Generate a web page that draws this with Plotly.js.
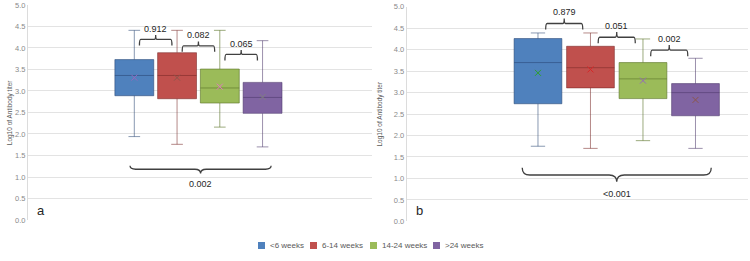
<!DOCTYPE html>
<html>
<head>
<meta charset="utf-8">
<script src="https://cdn.plot.ly/plotly-3.0.1.min.js"></script>
<style>html,body{margin:0;padding:0;background:#fff}#chart{width:750px;height:261px}</style>
</head>
<body>
<div id="chart"></div>
<script>
// ---- data ----
const groups = ['<6 weeks', '6-14 weeks', '14-24 weeks', '>24 weeks'];
const colors = ['#4F81BD', '#C0504D', '#9BBB59', '#8064A2'];
const lineColors = ['rgba(40,70,115,0.55)', 'rgba(120,40,38,0.55)', 'rgba(90,115,40,0.6)', 'rgba(75,55,105,0.55)'];
const meanColors = ['rgba(40,60,100,0.6)', 'rgba(100,35,35,0.6)', 'rgba(75,95,35,0.6)', 'rgba(60,45,90,0.6)'];

// panel a
const aLower  = [1.94, 1.76, 2.16, 1.70];
const aQ1     = [2.89, 2.82, 2.72, 2.48];
const aMedian = [3.36, 3.36, 3.07, 2.85];
const aQ3     = [3.73, 3.89, 3.51, 3.20];
const aUpper  = [4.41, 4.41, 4.41, 4.17];
const aMean   = [3.31, 3.31, 3.10, 2.86];
// panel b
const bLower  = [1.75, 1.70, 1.88, 1.70];
const bQ1     = [2.74, 3.11, 2.86, 2.46];
const bMedian = [3.70, 3.58, 3.32, 3.00];
const bQ3     = [4.26, 4.08, 3.70, 3.21];
const bUpper  = [4.39, 4.39, 4.25, 3.80];
const bMean   = [3.46, 3.54, 3.28, 2.83];

// p-value brackets
const aPairs = [[0, 1], [1, 2], [2, 3]];
const aPvals = ['0.912', '0.082', '0.065'];
const aBracketY = [4.20, 4.05, 3.85];
const aOverallP = '0.002';
const aOverallY = 1.18;
const bPairs = [[0, 1], [1, 2], [2, 3]];
const bPvals = ['0.879', '0.051', '0.002'];
const bBracketY = [4.61, 4.29, 3.99];
const bOverallP = '<0.001';
const bOverallY = 1.08;

const yTitle = 'Log10 of Antibody titer';
const panelLetters = ['a', 'b'];

// ---- layout helpers ----
const FONT = 'Liberation Sans, Arial, sans-serif';
const cat = ['all'];
const BOXGAP = 0.4;
const slot = (1 - BOXGAP) / groups.length;
const center = i => (i - (groups.length - 1) / 2) * slot;

const traces = [];
function addPanel(xa, ya, lower, q1, med, q3, upper, mean) {
  groups.forEach((g, i) => {
    traces.push({
      type: 'box', name: g, showlegend: false,
      x: cat, q1: [q1[i]], median: [med[i]], q3: [q3[i]],
      lowerfence: [lower[i]], upperfence: [upper[i]],
      xaxis: xa, yaxis: ya, offsetgroup: String(i), alignmentgroup: xa,
      fillcolor: colors[i], line: {color: lineColors[i], width: 1},
      whiskerwidth: 0.3, boxpoints: false, hoverinfo: 'skip'
    });
  });
  groups.forEach((g, i) => {
    traces.push({
      type: 'scatter', mode: 'markers', name: g + ' mean', showlegend: false,
      x: cat, y: [mean[i]], xaxis: xa, yaxis: ya,
      offsetgroup: String(i), alignmentgroup: xa,
      marker: {symbol: 'x-thin-open', size: 6, line: {color: meanColors[i], width: 1}},
      hoverinfo: 'skip'
    });
  });
}
addPanel('x', 'y', aLower, aQ1, aMedian, aQ3, aUpper, aMean);
addPanel('x2', 'y2', bLower, bQ1, bMedian, bQ3, bUpper, bMean);

const shapes = [];
const annotations = [];
const bracketColor = '#404040';
function bracket(xr, yr, x1, x2, y, d, t, down) {
  const s = down ? -1 : 1;
  const xm = (x1 + x2) / 2;
  const e = (x2 - x1) * 0.04;
  const path = `M${x1},${y - s * d} Q${x1},${y} ${x1 + e},${y} L${xm - e},${y} Q${xm},${y} ${xm},${y + s * t} Q${xm},${y} ${xm + e},${y} L${x2 - e},${y} Q${x2},${y} ${x2},${y - s * d}`;
  shapes.push({type: 'path', xref: xr, yref: yr, path: path, line: {color: bracketColor, width: 1.3}});
}
function addBrackets(xr, yr, pairs, pvals, ys, overallP, overallY, inset, outset, dTop, tTop, labTop, dBot, tBot, labBot) {
  pairs.forEach((p, k) => {
    const x1 = center(p[0]) + inset, x2 = center(p[1]) - inset;
    bracket(xr, yr, x1, x2, ys[k], dTop, tTop, false);
    annotations.push({xref: xr, yref: yr, x: (x1 + x2) / 2, y: ys[k] + labTop, text: pvals[k], showarrow: false,
      font: {family: FONT, size: 9, color: '#262626'}});
  });
  const x1 = center(0) - outset[0], x2 = center(groups.length - 1) + outset[1];
  bracket(xr, yr, x1, x2, overallY, dBot, tBot, true);
  annotations.push({xref: xr, yref: yr, x: (x1 + x2) / 2, y: overallY - labBot, text: overallP, showarrow: false,
    font: {family: FONT, size: 9, color: '#262626'}});
}
addBrackets('x', 'y', aPairs, aPvals, aBracketY, aOverallP, aOverallY, 0.018, [0.015, 0.03], 0.14, 0.10, 0.25, 0.08, 0.10, 0.35);
addBrackets('x2', 'y2', bPairs, bPvals, bBracketY, bOverallP, bOverallY, 0.022, [0.045, 0.045], 0.14, 0.12, 0.26, 0.17, 0.16, 0.44);

// y titles and panel letters
[[4 / 750, 0.57], [380 / 750, 0.565]].forEach((pos) => {
  annotations.push({xref: 'paper', yref: 'paper', x: pos[0], y: pos[1], text: yTitle, textangle: -90,
    showarrow: false, font: {family: FONT, size: 6.5, color: '#595959'}});
});
annotations.push({xref: 'x domain', yref: 'y', x: 0.02, y: 0.22, xanchor: 'left', text: panelLetters[0], showarrow: false,
  font: {family: FONT, size: 13, color: '#262626'}});
annotations.push({xref: 'x2 domain', yref: 'y2', x: 0.02, y: 0.25, xanchor: 'left', text: panelLetters[1], showarrow: false,
  font: {family: FONT, size: 13, color: '#262626'}});

// custom legend (small squares + labels)
const legendSquareX = [258, 310, 370, 433];
const legendY = 245.5;
groups.forEach((g, i) => {
  const x0 = legendSquareX[i];
  shapes.push({type: 'rect', xref: 'paper', yref: 'paper',
    x0: x0 / 750, x1: (x0 + 7) / 750, y0: 1 - (legendY + 3.5) / 261, y1: 1 - (legendY - 3.5) / 261,
    fillcolor: colors[i], line: {width: 0}});
  annotations.push({xref: 'paper', yref: 'paper', x: (x0 + 10) / 750, y: 1 - legendY / 261,
    xanchor: 'left', yanchor: 'middle', text: g, showarrow: false,
    font: {family: FONT, size: 8, color: '#595959'}});
});

const yax = (dom, anchor) => ({
  domain: dom, anchor: anchor, range: [0, 5], dtick: 0.5, tick0: 0, tickformat: '.1f',
  showgrid: true, gridcolor: '#e3e3e3', gridwidth: 1, zeroline: false,
  showline: true, linecolor: '#dcdcdc', linewidth: 1, ticks: '', ticklen: 0,
  tickfont: {family: FONT, size: 7.5, color: '#8a8a8a'}, fixedrange: true
});
const xax = (dom, rng, anchor) => ({
  domain: dom, anchor: anchor, range: rng, type: 'category', showticklabels: false, showgrid: false,
  zeroline: false, showline: false, ticks: '', fixedrange: true
});

const layout = {
  width: 750, height: 261, margin: {l: 0, r: 0, t: 0, b: 0},
  paper_bgcolor: '#ffffff', plot_bgcolor: '#ffffff',
  boxmode: 'group', boxgap: BOXGAP, boxgroupgap: 0.09,
  scattermode: 'group', scattergap: BOXGAP,
  xaxis: xax([28 / 750, 372 / 750], [-0.598, 0.609], 'y'),
  yaxis: yax([0.157, 0.981], 'x'),
  xaxis2: xax([406.7 / 750, 748 / 750], [-0.6, 0.375], 'y2'),
  yaxis2: yax([0.152, 0.974], 'x2'),
  showlegend: false,
  shapes: shapes, annotations: annotations
};

Plotly.newPlot('chart', traces, layout, {displayModeBar: false, staticPlot: true});
</script>
</body>
</html>
